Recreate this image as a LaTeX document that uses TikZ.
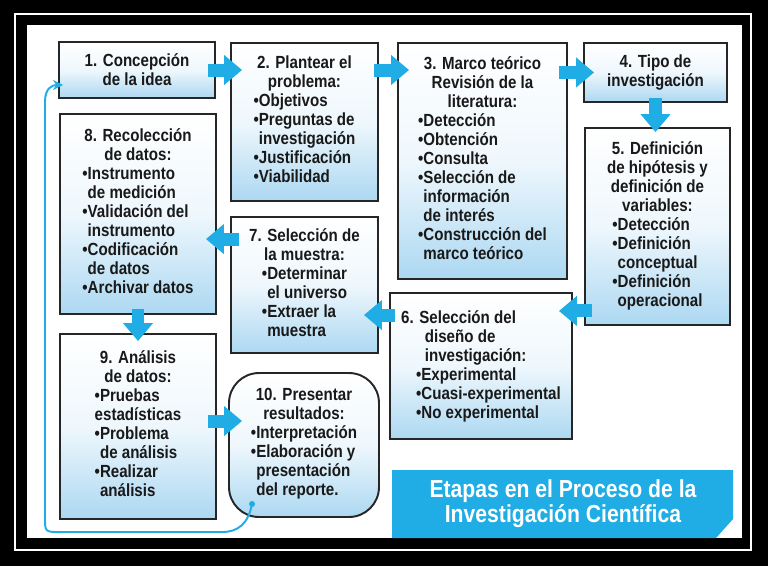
\documentclass[tikz,border=0pt]{standalone}
\usepackage{fontspec}
\newfontfamily\stagefont{Liberation Sans}[FakeStretch=0.86]
\usetikzlibrary{calc,positioning,arrows.meta}
\definecolor{flowblue}{RGB}{32,172,228}
\definecolor{boxblue}{RGB}{172,216,242}
\newcommand{\bul}{\textbullet}
\newcommand{\nx}{\hphantom{\textbullet}}

\begin{document}
\begin{tikzpicture}[x=0.02cm, y=-0.02cm,
    stage/.style={draw=black!85, line width=1.1pt, top color=white,
        bottom color=boxblue, middle color=white!80!boxblue, align=center,
        inner sep=2pt, text=black!90,
        font=\stagefont\bfseries\fontsize{10}{10.8}\selectfont},
    flow/.style={draw=flowblue, line width=0.26cm,
        -{Triangle[length=0.36cm,width=0.58cm]}},
    back/.style={draw=flowblue, line width=1.1pt,
        -{Stealth[length=0.2cm,width=0.2cm]}},
    heading/.style={text=white, align=center,
        font=\stagefont\bfseries\fontsize{14}{12.6}\selectfont}]

    % ---- Frame ----
    \fill[black] (0,0) rectangle (768,566);
    \draw[white, line width=0.04cm] (15,14) rectangle (751,550);
    \fill[white] (27,25) rectangle (742,538);

    % ---- Stages ----
    \node[stage, minimum width=3.12cm, minimum height=1.12cm] (b1) at (137,70)
        {1. Concepción\\de la idea};
    \node[stage, minimum width=2.94cm, minimum height=3.16cm] (b2) at (304.5,122)
        {2. Plantear el\\problema:\\
         \begin{tabular}[t]{@{}l@{}}\bul Objetivos\\\bul Preguntas de\\\nx investigación\\
         \bul Justificación\\\bul Viabilidad\end{tabular}};
    \node[stage, minimum width=3.38cm, minimum height=4.72cm] (b3) at (482.5,161)
        {3. Marco teórico\\Revisión de la\\literatura:\\
         \begin{tabular}[t]{@{}l@{}}\bul Detección\\\bul Obtención\\\bul Consulta\\
         \bul Selección de\\\nx información\\\nx de interés\\
         \bul Construcción del\\\nx marco teórico\end{tabular}};
    \node[stage, minimum width=2.86cm, minimum height=1.18cm] (b4) at (655.5,72.5)
        {4. Tipo de\\investigación};
    \node[stage, minimum width=2.9cm, minimum height=3.94cm] (b5) at (657.5,226.5)
        {5. Definición\\de hipótesis y\\definición de\\variables:\\
         \begin{tabular}[t]{@{}l@{}}\bul Detección\\\bul Definición\\\nx conceptual\\
         \bul Definición\\\nx operacional\end{tabular}};
    \node[stage, align=left, minimum width=3.64cm, minimum height=2.92cm] (b6) at (481,366)
        {6. Selección del\\\hspace*{1.35em}diseño de\\\hspace*{1.35em}investigación:\\
         \hspace*{0.85em}\bul Experimental\\\hspace*{0.85em}\bul Cuasi-experimental\\
         \hspace*{0.85em}\bul No experimental};
    \node[stage, minimum width=2.94cm, minimum height=2.72cm] (b7) at (304.5,285)
        {7. Selección de\\la muestra:\\
         \begin{tabular}[t]{@{}l@{}}\bul Determinar\\\nx el universo\\\bul Extraer la\\
         \nx muestra\end{tabular}};
    \node[stage, minimum width=3.12cm, minimum height=4cm] (b8) at (138,214)
        {8. Recolección\\de datos:\\
         \begin{tabular}[t]{@{}l@{}}\bul Instrumento\\\nx de medición\\\bul Validación del\\
         \nx instrumento\\\bul Codificación\\\nx de datos\\\bul Archivar datos\end{tabular}};
    \node[stage, minimum width=3.12cm, minimum height=3.7cm] (b9) at (138,426.5)
        {9. Análisis\\de datos:\\
         \begin{tabular}[t]{@{}l@{}}\bul Pruebas\\estadísticas\\\bul Problema\\
         \nx de análisis\\\bul Realizar\\\nx análisis\end{tabular}};
    \node[stage, rounded corners=0.6cm, minimum width=3cm, minimum height=2.88cm] (b10) at (304,445)
        {10. Presentar\\resultados:\\
         \begin{tabular}[t]{@{}l@{}}\bul Interpretación\\\bul Elaboración y\\
         \nx presentación\\\nx del reporte.\end{tabular}};

    % ---- Flow arrows ----
    \draw[flow] ([xshift=-0.16cm]b1.east) -- ([xshift=0.24cm]b1.east -| b2.west);
    \draw[flow] ([xshift=-0.1cm]b2.east |- b1.east) -- ([xshift=0.24cm]b3.west |- b1.east);
    \draw[flow] ([xshift=-0.18cm]b3.east |- b4.west) -- ([xshift=0.22cm]b4.west);
    \draw[flow] ([yshift=0.1cm]b4.south) -- ([yshift=-0.1cm]b4.south |- b5.north);
    \draw[flow] ([shift={(0.16cm,0.3cm)}]b5.south west)
        -- ([shift={(-0.28cm,0.3cm)}]b6.east |- b5.south west);
    \draw[flow] ([shift={(0.12cm,-0.46cm)}]b6.north west)
        -- ([shift={(-0.3cm,-0.46cm)}]b7.east |- b6.north west);
    \draw[flow] ([shift={(0.18cm,-0.46cm)}]b7.north west)
        -- ([shift={(-0.22cm,-0.46cm)}]b8.east |- b7.north west);
    \draw[flow] ([yshift=0.12cm]b8.south) -- ([yshift=-0.16cm]b9.north);
    \draw[flow] ([shift={(-0.18cm,0.11cm)}]b9.east) -- ([shift={(0.28cm,0.11cm)}]b9.east -| b10.west);

    % Back to the start
    \coordinate (lp) at ([shift={(0.48cm,0.28cm)}]b10.south west);
    \fill[flowblue] (lp) circle (0.06cm);
    \draw[back] (lp) .. controls +(-4,20) and +(16,0) .. (222,532) -- (60,532)
        .. controls (45,532) .. (45,517) -- (45,102)
        .. controls (45,88) and (52,85) .. ([shift={(0.1cm,-0.3cm)}]b1.west);

    % ---- Title ----
    \fill[flowblue] (392,470) -- (733,470) -- (733,519) -- (716,538) -- (392,538) -- cycle;
    \node[heading] (title) at (563,504) {Etapas en el Proceso de la\\Investigación Científica};
\end{tikzpicture}
\end{document}
